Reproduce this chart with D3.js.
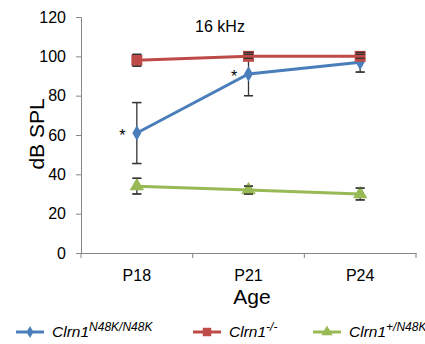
<!DOCTYPE html>
<html><head><meta charset="utf-8">
<script src="https://cdn.jsdelivr.net/npm/d3@7"></script>
<style>body{margin:0;background:#fff}svg{display:block;font-family:Arial,"Liberation Sans",sans-serif}</style>
</head><body><svg id="c" width="425" height="344"></svg>
<script>
const categories = ["P18","P21","P24"];
const yTicks = [0,20,40,60,80,100,120];
const seriesNames = ["Clrn1","Clrn1","Clrn1"];
const seriesSups = ["N48K/N48K","-/-","+/N48K"];
const colors = ["#4A7EBB","#BE4B48","#98B954"];
const blueVals = [61, 91, 97];
const blueErr = [15.5, 11, 5];
const redVals = [98, 100, 100];
const redErr = [3, 1, 1];
const greenVals = [34, 32, 30];
const greenErr = [4, 2, 3];
const stars = [{cat:"P18", v:61}, {cat:"P21", v:91}];

const svg = d3.select("#c");
const FF = "Arial, Liberation Sans, sans-serif";
const L=81, R=416, T=17, B=253;
const x = d3.scalePoint().domain(categories).range([L,R]).padding(0.5);
const xb = d3.scaleBand().domain(categories).range([L,R]);
const y = d3.scaleLinear().domain([0,120]).range([B,T]);
const axisCol = "#868686";

// y axis
const ya = svg.append("g").attr("transform",`translate(${L},0)`)
  .call(d3.axisLeft(y).tickValues(yTicks).tickSize(5).tickPadding(10));
ya.select(".domain").attr("stroke",axisCol);
ya.selectAll(".tick line").attr("stroke",axisCol);
ya.selectAll(".tick text").attr("font-size",16).attr("fill","#000").attr("font-family",FF);

// x axis
const xa = svg.append("g").attr("transform",`translate(0,${B})`)
  .call(d3.axisBottom(xb).tickSize(0).tickPadding(17));
xa.select(".domain").attr("stroke",axisCol);
xa.selectAll(".tick text").attr("font-size",16).attr("fill","#000").attr("font-family",FF);
// boundary ticks
const bounds = [L, ...categories.map(c=>xb(c)+xb.bandwidth())];
svg.append("g").selectAll("line").data(bounds).join("line")
  .attr("x1",d=>d).attr("x2",d=>d).attr("y1",B).attr("y2",B+5).attr("stroke",axisCol);

// labels
svg.append("text").attr("x",252).attr("y",304).attr("text-anchor","middle").attr("font-size",21).text("Age");
svg.append("text").attr("transform","translate(44,134) rotate(-90)").attr("text-anchor","middle").attr("font-size",21).text("dB SPL");
svg.append("text").attr("x",220).attr("y",32).attr("text-anchor","middle").attr("font-size",16).text("16 kHz");

const series = [
  {vals:blueVals, err:blueErr, col:colors[0], shape:d3.symbolDiamond, size:70},
  {vals:redVals, err:redErr, col:colors[1], shape:d3.symbolSquare, size:120},
  {vals:greenVals, err:greenErr, col:colors[2], shape:d3.symbolTriangle, size:90}
];
const line = d3.line().x((d,i)=>x(categories[i])).y(d=>y(d));

// error bars (drawn first)
series.forEach(s=>{
  const g = svg.append("g").attr("stroke","#333").attr("stroke-width",1.3);
  s.vals.forEach((v,i)=>{
    const cx = x(categories[i]);
    g.append("line").attr("x1",cx).attr("x2",cx).attr("y1",y(v+s.err[i])).attr("y2",y(v-s.err[i]));
    [v+s.err[i], v-s.err[i]].forEach(e=>g.append("line").attr("x1",cx-4.5).attr("x2",cx+4.5).attr("y1",y(e)).attr("y2",y(e)));
  });
});
// lines and markers
series.forEach(s=>{
  svg.append("path").datum(s.vals).attr("d",line).attr("fill","none").attr("stroke",s.col).attr("stroke-width",3);
  svg.append("g").selectAll("path").data(s.vals).join("path")
    .attr("transform",(d,i)=>`translate(${x(categories[i])},${y(d)})`)
    .attr("d",d3.symbol().type(s.shape).size(s.size)).attr("fill",s.col);
});
// error bar caps over markers (as in reference)
series.forEach(s=>{
  const g = svg.append("g").attr("stroke","#333").attr("stroke-width",1.3);
  s.vals.forEach((v,i)=>{
    const cx = x(categories[i]);
    [v+s.err[i], v-s.err[i]].forEach(e=>g.append("line").attr("x1",cx-4.5).attr("x2",cx+4.5).attr("y1",y(e)).attr("y2",y(e)));
  });
});

// stars
svg.append("g").selectAll("text").data(stars).join("text")
  .attr("x",d=>x(d.cat)-14.5).attr("y",d=>y(d.v)+8)
  .attr("text-anchor","middle").attr("font-size",16).text("*");

// legend
const legX = [16,193,313];
const lg = svg.append("g");
series.forEach((s,i)=>{
  const ly = 332;
  lg.append("line").attr("x1",legX[i]).attr("x2",legX[i]+28).attr("y1",ly).attr("y2",ly).attr("stroke",s.col).attr("stroke-width",3);
  lg.append("path").attr("transform",`translate(${legX[i]+14},${ly})`).attr("d",d3.symbol().type(s.shape).size(s.size*0.6)).attr("fill",s.col);
  const t = lg.append("text").attr("x",legX[i]+36).attr("y",337).attr("font-size",15.5).attr("font-style","italic");
  t.append("tspan").text(seriesNames[i]);
  t.append("tspan").attr("dy",-6).attr("font-size",12).text(seriesSups[i]);
});
</script></body></html>
